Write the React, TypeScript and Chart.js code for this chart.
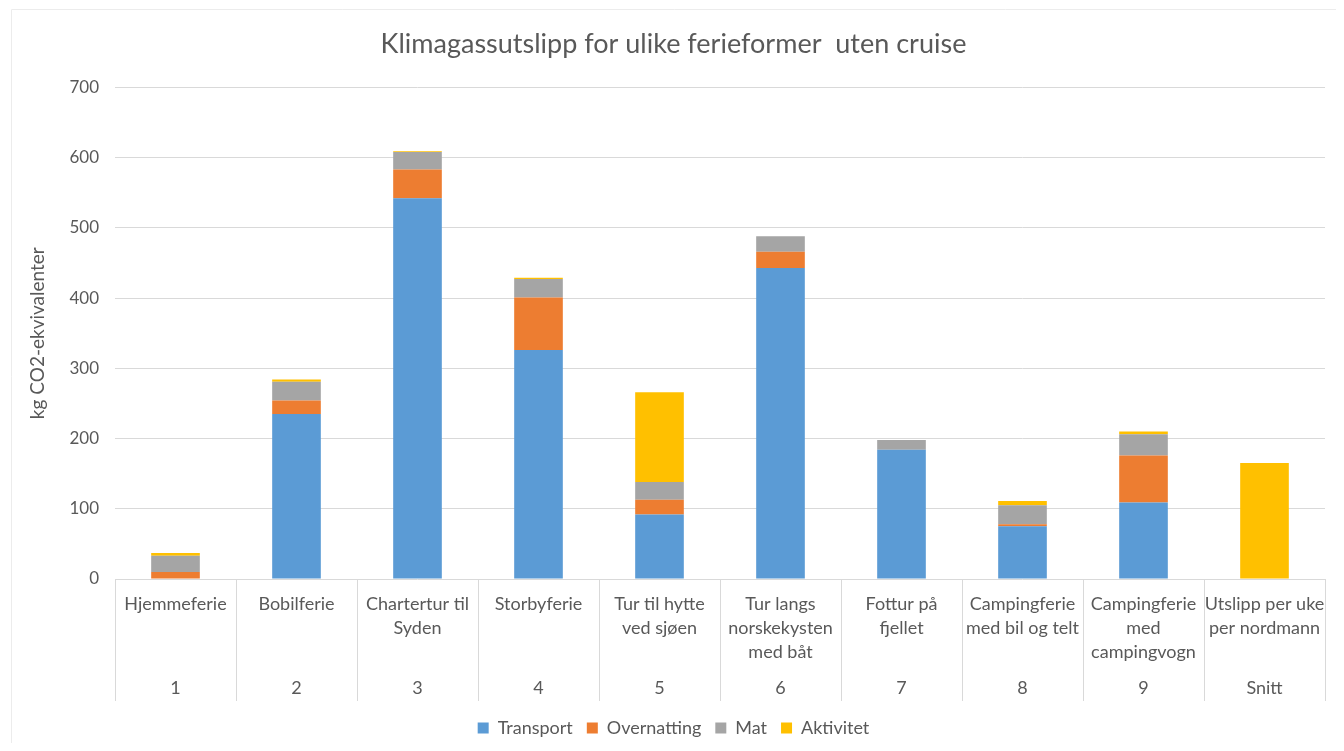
import React, { useEffect, useRef } from "react";
import { Chart, registerables } from "chart.js";

Chart.register(...registerables);

const categoryLines: string[][] = [
  ["Hjemmeferie"],
  ["Bobilferie"],
  ["Chartertur til", "Syden"],
  ["Storbyferie"],
  ["Tur til hytte", "ved sjøen"],
  ["Tur langs", "norskekysten", "med båt"],
  ["Fottur på", "fjellet"],
  ["Campingferie", "med bil og telt"],
  ["Campingferie", "med", "campingvogn"],
  ["Utslipp per uke", "per nordmann"],
];
const groupLabels: string[] = ["1", "2", "3", "4", "5", "6", "7", "8", "9", "Snitt"];

const transport: number[] = [0, 235, 542, 326, 92, 443, 184, 75, 109, 0];
const overnatting: number[] = [10, 19, 41, 75, 21, 23, 0, 3, 67, 0];
const mat: number[] = [23, 27, 25, 26, 25, 22, 14, 27, 30, 0];
const aktivitet: number[] = [4, 3, 1, 2, 128, 0, 0, 6, 4, 165];

const yTicks: number[] = [0, 100, 200, 300, 400, 500, 600, 700];

const TEXT = "#595959";
const FONT = "Lato, 'Open Sans', sans-serif";

const multiLevelAxis = {
  id: "multiLevelAxis",
  afterDraw(chart: any) {
    const { ctx, chartArea } = chart;
    const x = chart.scales.x;
    const n = groupLabels.length;
    const step = x.getPixelForValue(1) - x.getPixelForValue(0);
    const top = chartArea.bottom;
    const bottom = chartArea.bottom + 122;
    ctx.save();
    ctx.strokeStyle = "#ececec";
    ctx.lineWidth = 1;
    ctx.beginPath();
    ctx.moveTo(3.5, chart.height + 5);
    ctx.lineTo(3.5, 1.5);
    ctx.lineTo(chart.width + 5, 1.5);
    ctx.stroke();
    ctx.strokeStyle = "#d9d9d9";
    for (let i = 0; i <= n; i++) {
      const px = Math.round(x.getPixelForValue(0) - step / 2 + i * step) + 0.5;
      ctx.beginPath();
      ctx.moveTo(px, top);
      ctx.lineTo(px, bottom);
      ctx.stroke();
    }
    ctx.fillStyle = TEXT;
    ctx.font = `18px ${FONT}`;
    ctx.textAlign = "center";
    ctx.textBaseline = "middle";
    for (let i = 0; i < n; i++) {
      const cx = x.getPixelForValue(i);
      categoryLines[i].forEach((line, j) => {
        ctx.fillText(line, cx, top + 25 + j * 24);
      });
      ctx.fillText(groupLabels[i], cx, top + 109);
    }
    ctx.restore();
  },
};

export default function App() {
  const ref = useRef<HTMLCanvasElement | null>(null);
  useEffect(() => {
    if (!ref.current) return;
    const chart = new Chart(ref.current, {
      type: "bar",
      data: {
        labels: groupLabels,
        datasets: [
          { label: "Transport", data: transport, backgroundColor: "#5B9BD5" },
          { label: "Overnatting", data: overnatting, backgroundColor: "#ED7D31" },
          { label: "Mat", data: mat, backgroundColor: "#A5A5A5" },
          { label: "Aktivitet", data: aktivitet, backgroundColor: "#FFC000" },
        ],
      },
      options: {
        animation: false,
        responsive: true,
        maintainAspectRatio: false,
        datasets: { bar: { barPercentage: 0.6, categoryPercentage: 0.67 } },
        layout: { padding: { left: 14, right: 11, top: 8, bottom: -4 } },
        plugins: {
          title: {
            display: true,
            text: "Klimagassutslipp for ulike ferieformer  uten cruise",
            color: TEXT,
            font: { family: FONT, size: 27, weight: "normal" },
            padding: { top: 12, bottom: 27 },
          },
          legend: {
            position: "bottom",
            labels: {
              color: TEXT,
              font: { family: FONT, size: 18 },
              boxWidth: 11,
              boxHeight: 11,
              padding: 14,
            },
          },
          tooltip: { enabled: false },
        },
        scales: {
          x: {
            stacked: true,
            grid: { display: false },
            border: { display: false },
            ticks: { display: false },
            afterFit: (scale: any) => {
              scale.height = 126;
            },
          },
          y: {
            stacked: true,
            min: 0,
            max: 700,
            afterBuildTicks: (scale: any) => {
              scale.ticks = yTicks.map((v) => ({ value: v }));
            },
            grid: { color: "#d9d9d9", drawTicks: false },
            border: { display: false },
            ticks: {
              color: TEXT,
              font: { family: FONT, size: 17 },
              padding: 16,
            },
            title: {
              display: true,
              text: "kg CO2-ekvivalenter",
              color: TEXT,
              font: { family: FONT, size: 19 },
            },
            afterFit: (scale: any) => {
              scale.width = 93;
            },
          },
        },
      },
      plugins: [multiLevelAxis],
    });
    return () => chart.destroy();
  }, []);
  return (
    <div style={{ position: "relative", width: 1328, height: 735 }}>
      <canvas ref={ref} />
    </div>
  );
}
